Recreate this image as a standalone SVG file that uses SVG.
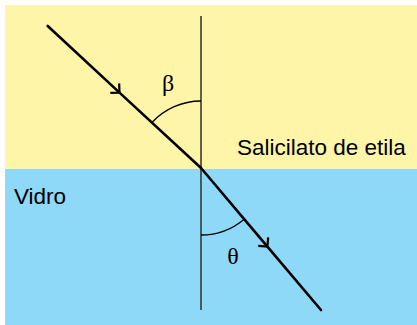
<svg xmlns="http://www.w3.org/2000/svg" width="417" height="325" viewBox="0 0 417 325">
<style>
.lbl{font-family:"Liberation Sans",Arial,sans-serif;font-size:22.5px;fill:#000}
.greek{font-family:"Liberation Serif","DejaVu Serif",serif;font-size:24px;fill:#000;text-anchor:middle}
.ray{stroke:#000;stroke-width:2.6;fill:none;stroke-linecap:round}
.normal{stroke:#3a3a3a;stroke-width:1.6;fill:none}
.arc{stroke:#000;stroke-width:1.3;fill:none}
</style>
<defs>
<marker id="chev" markerUnits="userSpaceOnUse" orient="auto" markerWidth="16" markerHeight="16" refX="0" refY="0" viewBox="-10 -8 12 16" overflow="visible">
<path d="M-6.5,-6.5 L0,0 L-6.5,6.5" fill="none" stroke="#000" stroke-width="2.2"/>
</marker>
</defs>
<rect x="0" y="0" width="417" height="325" fill="#fff"/>
<g id="salicilato">
<rect x="5" y="5" width="412" height="164" fill="#FFF5A8"/>
<text class="lbl" x="237" y="155">Salicilato de etila</text>
</g>
<g id="vidro">
<rect x="5" y="169" width="412" height="156" fill="#8ED8F8"/>
<text class="lbl" x="14" y="204">Vidro</text>
</g>
<g id="connectors">
<line class="normal" x1="201" y1="16" x2="201" y2="310"/>
<path class="ray" d="M47.7,26 L119.5,92.6 L201,168" marker-mid="url(#chev)"/>
<path class="ray" d="M201,168 L267.4,246.6 L321,310" marker-mid="url(#chev)"/>
</g>
<g id="beta">
<path class="arc" d="M201,101 A67,67 0 0,0 151.9,122.5"/>
<text class="greek" x="168" y="91">β</text>
</g>
<g id="theta">
<path class="arc" d="M201,235 A67,67 0 0,0 244.2,219.2"/>
<text class="greek" x="233" y="264">θ</text>
</g>
</svg>
